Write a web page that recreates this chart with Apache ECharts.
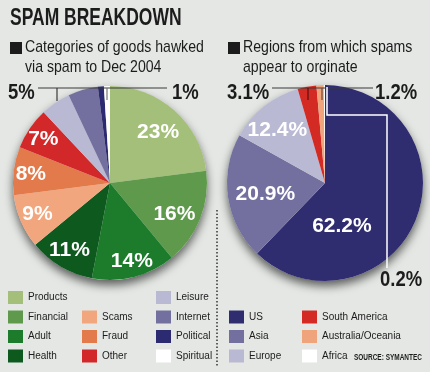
<!DOCTYPE html>
<html><head><meta charset="utf-8">
<script src="https://cdn.jsdelivr.net/npm/echarts@6/dist/echarts.min.js"></script>
<style>html,body{margin:0;padding:0;background:#e4e7e4}#chart{width:430px;height:372px}</style>
</head><body><div id="chart"></div>
<script>
// ---- data ----
const chartTitle = 'SPAM BREAKDOWN';
const goodsSubtitle = ['Categories of goods hawked', 'via spam to Dec 2004'];
const regionSubtitle = ['Regions from which spams', 'appear to orginate'];
const sourceNote = 'SOURCE: SYMANTEC';
const goodsCategories = ['Products', 'Financial', 'Adult', 'Health', 'Scams', 'Fraud', 'Other', 'Leisure', 'Internet', 'Political', 'Spiritual'];
const goodsShare = [23, 16, 14, 11, 9, 8, 7, 5, 5, 1, 1];
const regionNames = ['US', 'Asia', 'Europe', 'South America', 'Australia/Oceania', 'Africa'];
const regionShare = [62.2, 20.9, 12.4, 3.1, 1.2, 0.2];

// ---- styles ----
const FONT_L = '"Liberation Sans", Arial, sans-serif';
const BG = '#e4e7e4';
const INK = '#1c1c1c';
const goodsColors = {
  Products: '#a4bf79', Financial: '#5f9a4c', Adult: '#1c7c2c', Health: '#0e5a1e',
  Scams: '#f2a67d', Fraud: '#e37a4c', Other: '#d2282a',
  Leisure: '#bab9d4', Internet: '#73709f', Political: '#2c2a70', Spiritual: '#ffffff'
};
const regionColors = {
  US: '#302c70', Asia: '#73709f', Europe: '#bab9d4',
  'South America': '#d32a24', 'Australia/Oceania': '#f0a47c', Africa: '#ffffff'
};
// inside-label nudges (only these get inside labels)
const goodsInside = { Products: [-2, 6], Financial: [-6, 3], Adult: [3, 5], Health: [-2, 2], Scams: [-3, 1], Fraud: [-4, 1], Other: [-4, -1] };
const regionInside = { US: [-54, 15], Asia: [16, 0], Europe: [0, 7] };

const leftPie = { center: [110, 183], r: 97 };
const rightPie = { center: [325, 183], r: 98 };

function shadowSeries(p) {
  return {
    type: 'pie', silent: true, animation: false, center: p.center, radius: p.r,
    data: [{ value: 1, name: '__shadow' }],
    itemStyle: { color: BG, borderWidth: 0, shadowBlur: 10, shadowOffsetY: 5, shadowColor: 'rgba(0,0,0,0.6)' },
    label: { show: false }, labelLine: { show: false }
  };
}
function mainSeries(p, names, values, colors) {
  return {
    type: 'pie', silent: true, animation: false, center: p.center, radius: p.r,
    startAngle: 90, clockwise: true, avoidLabelOverlap: false,
    data: names.map((n, i) => ({ name: n, value: values[i], itemStyle: { color: colors[n] } })),
    itemStyle: { borderWidth: 0 },
    label: { show: false }, labelLine: { show: false }, emphasis: { disabled: true }
  };
}
function labelSeries(p, names, values, nudge, fmt) {
  return {
    type: 'pie', silent: true, animation: false, center: p.center, radius: [p.r * 0.5, p.r],
    startAngle: 90, clockwise: true, avoidLabelOverlap: false,
    data: names.map((n, i) => ({
      name: n, value: values[i],
      itemStyle: { color: 'rgba(0,0,0,0)', borderWidth: 0 },
      label: { show: n in nudge, offset: nudge[n] || [0, 0] }
    })),
    label: {
      position: 'inside', formatter: pr => fmt(pr.value), color: '#ffffff',
      fontFamily: FONT_L, fontWeight: 'bold', fontSize: 21
    },
    labelLine: { show: false }, emphasis: { disabled: true }
  };
}
const fmtInt = v => v + '%';
const fmtDec = v => v.toFixed(1) + '%';

function legend(names, left, top) {
  return {
    data: names, left: left, top: top, orient: 'vertical', icon: 'rect',
    itemWidth: 15, itemHeight: 13, itemGap: 6.5, padding: 0, selectedMode: false,
    textStyle: { fontFamily: FONT_L, fontSize: 10, color: INK }
  };
}

function txt(x, y, text, size, sx, opts) {
  return {
    type: 'text', x: x, y: y, scaleX: sx, z: 100, silent: true,
    style: Object.assign({ text: text, fill: INK, fontFamily: FONT_L, fontSize: size, fontWeight: 'bold', verticalAlign: 'middle', align: 'left' }, (opts || {}))
  };
}
function line(x1, y1, x2, y2, color, w, dash) {
  return { type: 'line', z: 100, silent: true, shape: { x1, y1, x2, y2 }, style: { stroke: color, lineWidth: w || 1.2, lineDash: dash || null } };
}

const chart = echarts.init(document.getElementById('chart'), null, { renderer: 'canvas' });
chart.setOption({
  backgroundColor: BG,
  animation: false,
  legend: [
    legend(goodsCategories.slice(0, 4), 8, 291),
    legend(goodsCategories.slice(4, 7), 82, 310.5),
    legend(goodsCategories.slice(7, 11), 156, 291),
    legend(regionNames.slice(0, 3), 229, 310.5),
    legend(regionNames.slice(3, 6), 302, 310.5)
  ],
  series: [
    shadowSeries(leftPie),
    mainSeries(leftPie, goodsCategories, goodsShare, goodsColors),
    labelSeries(leftPie, goodsCategories, goodsShare, goodsInside, fmtInt),
    shadowSeries(rightPie),
    mainSeries(rightPie, regionNames, regionShare, regionColors),
    labelSeries(rightPie, regionNames, regionShare, regionInside, fmtDec)
  ],
  graphic: [
    txt(10, 18.5, chartTitle, 23, 0.76),
    { type: 'rect', z: 100, shape: { x: 10, y: 42, width: 12, height: 12 }, style: { fill: INK } },
    txt(25, 57, goodsSubtitle.join('\n'), 17, 0.83, { fontWeight: 'normal', lineHeight: 20 }),
    { type: 'rect', z: 100, shape: { x: 228, y: 42, width: 12, height: 12 }, style: { fill: INK } },
    txt(243, 57, regionSubtitle.join('\n'), 17, 0.83, { fontWeight: 'normal', lineHeight: 20 }),
    // annotation lines
    line(38, 88, 167, 88, '#3a3a3a'),
    line(57, 88, 57, 101, '#3a3a3a'),
    line(107, 88, 107, 100, '#777777'),
    line(272, 88, 373, 88, '#3a3a3a'),
    line(308, 88, 308, 100, '#5a1010'),
    line(322, 88, 322, 100, '#6a4a3a'),
    { type: 'polyline', z: 100, silent: true, shape: { points: [[327, 87], [327, 115], [387, 115], [387, 268]] }, style: { stroke: '#ffffff', lineWidth: 1.5, fill: null } },
    line(217, 210, 217, 366, '#333333', 1.5, [1.5, 2]),
    // outside labels
    txt(8, 92.5, fmtInt(goodsShare[7]), 22, 0.84),
    txt(172, 92.5, fmtInt(goodsShare[9]), 22, 0.84),
    txt(227, 92.5, fmtDec(regionShare[3]), 22, 0.84),
    txt(375, 92.5, fmtDec(regionShare[4]), 22, 0.84),
    txt(380, 279.5, fmtDec(regionShare[5]), 22, 0.84),
    txt(422, 358, sourceNote, 9, 0.72, { align: 'right' })
  ]
});
</script></body></html>
